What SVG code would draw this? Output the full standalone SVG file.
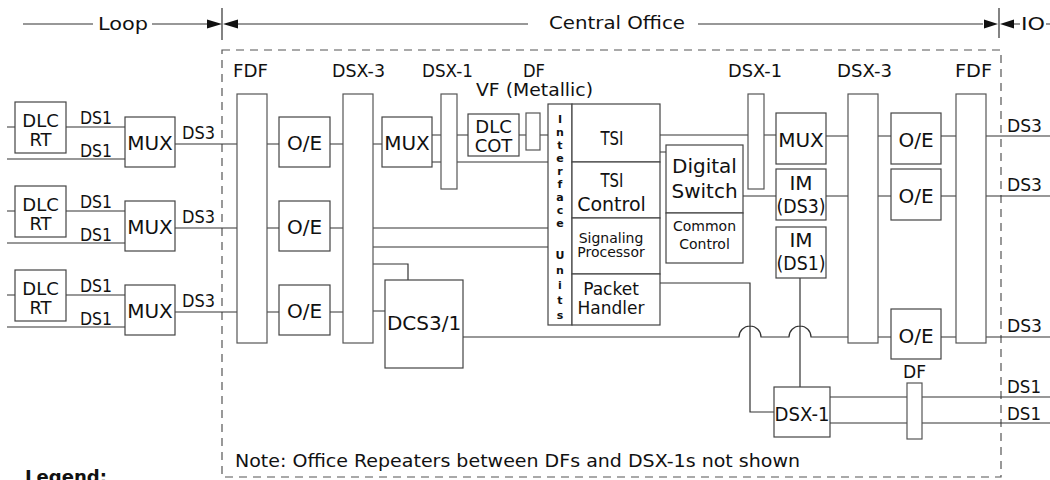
<svg xmlns="http://www.w3.org/2000/svg" width="1050" height="480" viewBox="0 0 1050 480">
<style>
.ln{fill:none;stroke:#333;stroke-width:1.2}
.bx{fill:#fff;stroke:#444;stroke-width:1.2}
.bar{fill:#fff;stroke:#555;stroke-width:1.2}
.dash{fill:none;stroke:#555;stroke-width:1.2;stroke-dasharray:8 6}
.ah{fill:#111}
text{font-family:"DejaVu Sans","Liberation Sans",sans-serif;fill:#111}
.lab{font-size:17px}
.b20{font-size:20px;text-anchor:middle}
.b18{font-size:18px;text-anchor:middle}
.c{text-anchor:middle}
</style>
<rect id="office-border" class="dash" x="222" y="50" width="779" height="427"/>
<g id="header">
<path class="ln" d="M23 24H93M152 24H207M238 24H528M698 24H983M1014 24H1020M1046 24H1050M222 8V40M999 8V38"/>
<polygon class="ah" points="207,19.5 222,24 207,28.5"/>
<polygon class="ah" points="238,19.5 223,24 238,28.5"/>
<polygon class="ah" points="984,19.5 998,24 984,28.5"/>
<polygon class="ah" points="1014,19.5 1000,24 1014,28.5"/>
<text class="lab" x="98" y="30" textLength="50" lengthAdjust="spacingAndGlyphs">Loop</text>
<text class="lab" x="549" y="29" textLength="136" lengthAdjust="spacingAndGlyphs">Central Office</text>
<text class="lab" x="1021" y="30" textLength="24" lengthAdjust="spacingAndGlyphs">IO</text>
</g>
<g id="connectors">
<path class="ln" d="M7 127H15M66 127H125M7 159H125M175 144H237M267 144H279M330 144H343
M7 211H15M66 211H125M7 243H125M175 228H237M267 228H279M330 228H343
M7 295H15M66 295H125M7 327H125M175 312H237M267 312H279M330 312H343
M373 144H382M432 135H441M432 162H441M457 135H468M519 135H526M540 135H548M457 162H548
M373 228H548M373 247H548M373 264H408V280M373 311H385
M463 337H739A11 11 0 0 1 761 337H789A11 11 0 0 1 811 337H848
M660 135H776M660 152H666M743 196H776M660 283H750V412H774M800 278V387
M826 136H848M878 136H891M941 136H956M986 136H1050
M826 196H848M878 196H891M941 196H956M986 196H1050
M878 337H891M941 337H956M986 337H1050
M830 397H1050M830 423H1050"/>
</g>
<g id="dlc-rt-1"><rect class="bx" x="15" y="102" width="51" height="51"/><text class="b18"><tspan x="40.5" y="127">DLC</tspan><tspan x="40.5" y="146">RT</tspan></text></g>
<g id="dlc-rt-2"><rect class="bx" x="15" y="186" width="51" height="51"/><text class="b18"><tspan x="40.5" y="211">DLC</tspan><tspan x="40.5" y="230">RT</tspan></text></g>
<g id="dlc-rt-3"><rect class="bx" x="15" y="270" width="51" height="51"/><text class="b18"><tspan x="40.5" y="295">DLC</tspan><tspan x="40.5" y="314">RT</tspan></text></g>
<g id="left-labels">
<text class="lab" x="80" y="124" textLength="32" lengthAdjust="spacingAndGlyphs">DS1</text>
<text class="lab" x="80" y="157" textLength="32" lengthAdjust="spacingAndGlyphs">DS1</text>
<text class="lab" x="182" y="139" textLength="33" lengthAdjust="spacingAndGlyphs">DS3</text>
<text class="lab" x="80" y="208" textLength="32" lengthAdjust="spacingAndGlyphs">DS1</text>
<text class="lab" x="80" y="241" textLength="32" lengthAdjust="spacingAndGlyphs">DS1</text>
<text class="lab" x="182" y="223" textLength="33" lengthAdjust="spacingAndGlyphs">DS3</text>
<text class="lab" x="80" y="292" textLength="32" lengthAdjust="spacingAndGlyphs">DS1</text>
<text class="lab" x="80" y="325" textLength="32" lengthAdjust="spacingAndGlyphs">DS1</text>
<text class="lab" x="182" y="307" textLength="33" lengthAdjust="spacingAndGlyphs">DS3</text>
</g>
<g id="mux-1"><rect class="bx" x="125" y="117" width="50" height="50"/><text class="b20" x="150" y="150">MUX</text></g>
<g id="mux-2"><rect class="bx" x="125" y="201" width="50" height="50"/><text class="b20" x="150" y="234">MUX</text></g>
<g id="mux-3"><rect class="bx" x="125" y="285" width="50" height="50"/><text class="b20" x="150" y="318">MUX</text></g>
<g id="fdf-left"><rect class="bar" x="237" y="94" width="30" height="249"/><text class="lab" x="233" y="77" textLength="35" lengthAdjust="spacingAndGlyphs">FDF</text></g>
<g id="oe-l1"><rect class="bx" x="279" y="117" width="51" height="50"/><text class="b20" x="304.5" y="150">O/E</text></g>
<g id="oe-l2"><rect class="bx" x="279" y="201" width="51" height="50"/><text class="b20" x="304.5" y="234">O/E</text></g>
<g id="oe-l3"><rect class="bx" x="279" y="285" width="51" height="50"/><text class="b20" x="304.5" y="318">O/E</text></g>
<g id="dsx3-left"><rect class="bar" x="343" y="94" width="30" height="249"/><text class="lab" x="332" y="77" textLength="53" lengthAdjust="spacingAndGlyphs">DSX-3</text></g>
<g id="mux-mid"><rect class="bx" x="382" y="117" width="50" height="50"/><text class="b20" x="407" y="150">MUX</text></g>
<g id="dsx1-left"><rect class="bar" x="441" y="94" width="16" height="95"/><text class="lab" x="422" y="77" textLength="51" lengthAdjust="spacingAndGlyphs">DSX-1</text></g>
<g id="dlc-cot"><rect class="bx" x="468" y="114" width="51" height="42" stroke-width="2"/><text class="b18"><tspan x="493.5" y="133">DLC</tspan><tspan x="493.5" y="152">COT</tspan></text></g>
<g id="df-vf"><rect class="bar" x="526" y="113" width="14" height="37"/><text class="lab" x="523" y="77" textLength="22" lengthAdjust="spacingAndGlyphs">DF</text><text class="lab" x="476" y="96" textLength="117" lengthAdjust="spacingAndGlyphs">VF (Metallic)</text></g>
<g id="interface-units"><rect class="bx" x="548" y="104" width="24" height="221"/>
<text class="c" font-size="11" font-weight="bold"><tspan x="560" y="123">I</tspan><tspan x="560" y="136">n</tspan><tspan x="560" y="149">t</tspan><tspan x="560" y="162">e</tspan><tspan x="560" y="175">r</tspan><tspan x="560" y="188">f</tspan><tspan x="560" y="201">a</tspan><tspan x="560" y="214">c</tspan><tspan x="560" y="227">e</tspan><tspan x="560" y="259">U</tspan><tspan x="560" y="274">n</tspan><tspan x="560" y="289">i</tspan><tspan x="560" y="304">t</tspan><tspan x="560" y="319">s</tspan></text>
</g>
<g id="tsi"><rect class="bx" x="572" y="104" width="88" height="58"/><text class="c" font-size="20" x="612" y="145" textLength="23" lengthAdjust="spacingAndGlyphs">TSI</text></g>
<g id="tsi-control"><rect class="bx" x="572" y="162" width="88" height="56"/><text class="c" font-size="19"><tspan x="612" y="187" textLength="23" lengthAdjust="spacingAndGlyphs">TSI</tspan><tspan x="611.5" y="211">Control</tspan></text></g>
<g id="signaling"><rect class="bx" x="572" y="218" width="88" height="56"/><text class="c" font-size="14"><tspan x="611" y="243">Signaling</tspan><tspan x="611" y="257">Processor</tspan></text></g>
<g id="packet"><rect class="bx" x="572" y="274" width="88" height="51"/><text class="c" font-size="17"><tspan x="611" y="295">Packet</tspan><tspan x="611" y="314">Handler</tspan></text></g>
<g id="digital-switch"><rect class="bx" x="666" y="145" width="77" height="68"/><text class="b20"><tspan x="704.5" y="173">Digital</tspan><tspan x="704.5" y="198">Switch</tspan></text></g>
<g id="common-control"><rect class="bx" x="666" y="213" width="77" height="50"/><text class="c" font-size="14"><tspan x="704.5" y="231">Common</tspan><tspan x="704.5" y="249">Control</tspan></text></g>
<g id="dsx1-right"><rect class="bar" x="748" y="94" width="16" height="95"/><text class="lab" x="728" y="77" textLength="54" lengthAdjust="spacingAndGlyphs">DSX-1</text></g>
<g id="mux-right"><rect class="bx" x="776" y="113" width="50" height="51"/><text class="b20" x="801" y="147">MUX</text></g>
<g id="im-ds3"><rect class="bx" x="776" y="169" width="50" height="51"/><text class="b20"><tspan x="801" y="190">IM</tspan><tspan x="801" y="213" textLength="49" lengthAdjust="spacingAndGlyphs">(DS3)</tspan></text></g>
<g id="im-ds1"><rect class="bx" x="776" y="227" width="50" height="51"/><text class="b20"><tspan x="801" y="247">IM</tspan><tspan x="801" y="270" textLength="49" lengthAdjust="spacingAndGlyphs">(DS1)</tspan></text></g>
<g id="dsx3-right"><rect class="bar" x="848" y="94" width="30" height="249"/><text class="lab" x="837" y="77" textLength="55" lengthAdjust="spacingAndGlyphs">DSX-3</text></g>
<g id="oe-r1"><rect class="bx" x="891" y="113" width="50" height="51"/><text class="b20" x="916" y="147">O/E</text></g>
<g id="oe-r2"><rect class="bx" x="891" y="169" width="50" height="51"/><text class="b20" x="916" y="203">O/E</text></g>
<g id="oe-r3"><rect class="bx" x="891" y="309" width="50" height="50"/><text class="b20" x="916" y="343">O/E</text></g>
<g id="fdf-right"><rect class="bar" x="956" y="94" width="30" height="249"/><text class="lab" x="955" y="77" textLength="37" lengthAdjust="spacingAndGlyphs">FDF</text></g>
<g id="dcs31"><rect class="bx" x="385" y="280" width="78" height="88"/><text class="b20" x="424" y="330">DCS3/1</text></g>
<g id="dsx1-bottom"><rect class="bx" x="774" y="387" width="56" height="50"/><text class="b20" x="802" y="421" textLength="55" lengthAdjust="spacingAndGlyphs">DSX-1</text></g>
<g id="df-bottom"><rect class="bar" x="907" y="383" width="15" height="56"/><text class="lab" x="903" y="378" textLength="23" lengthAdjust="spacingAndGlyphs">DF</text></g>
<g id="right-labels">
<text class="lab" x="1007" y="132" textLength="35" lengthAdjust="spacingAndGlyphs">DS3</text>
<text class="lab" x="1007" y="191" textLength="35" lengthAdjust="spacingAndGlyphs">DS3</text>
<text class="lab" x="1007" y="332" textLength="35" lengthAdjust="spacingAndGlyphs">DS3</text>
<text class="lab" x="1007" y="393" textLength="34" lengthAdjust="spacingAndGlyphs">DS1</text>
<text class="lab" x="1007" y="420" textLength="34" lengthAdjust="spacingAndGlyphs">DS1</text>
</g>
<g id="note"><text class="lab" x="235" y="467" textLength="565" lengthAdjust="spacingAndGlyphs">Note: Office Repeaters between DFs and DSX-1s not shown</text></g>
<g id="legend"><text font-size="18" font-weight="bold" x="25" y="483" textLength="82" lengthAdjust="spacingAndGlyphs">Legend:</text></g>
</svg>
